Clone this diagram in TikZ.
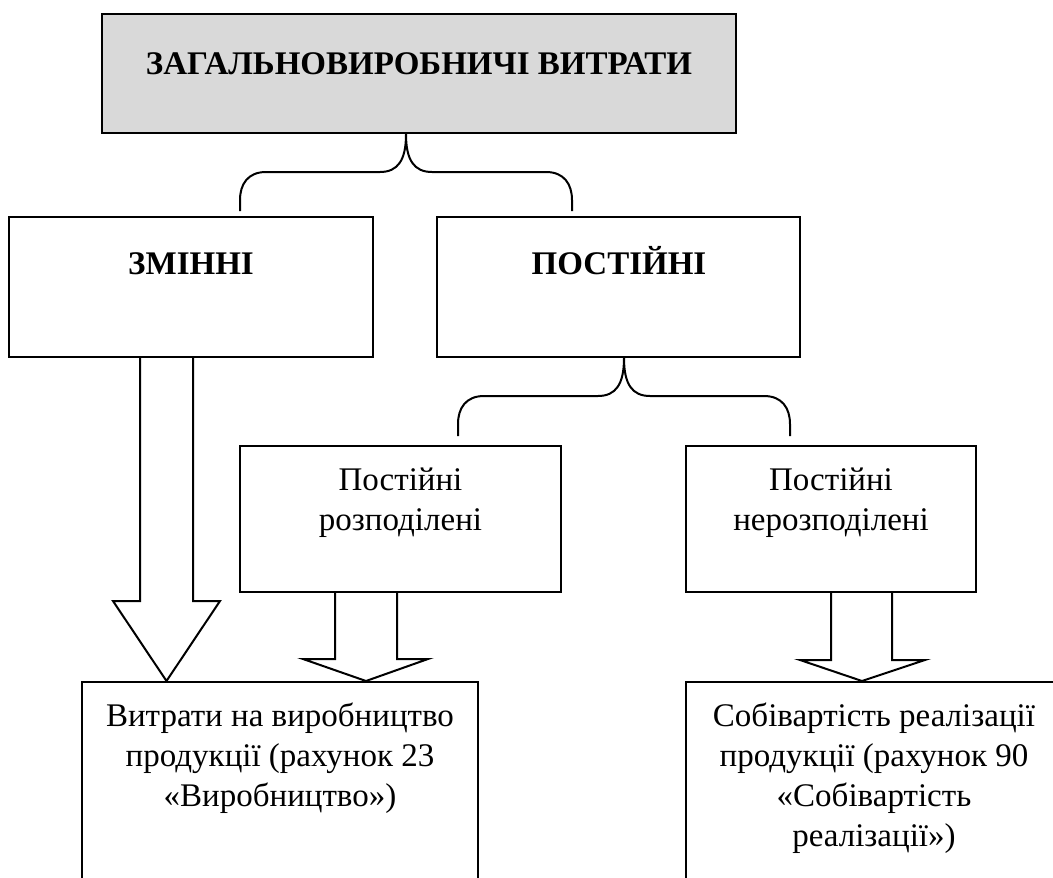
\documentclass[tikz,border=0pt]{standalone}
\usepackage{fontspec}
\setmainfont{Liberation Serif}
\definecolor{topgray}{RGB}{217,217,217}
\tikzset{
  box/.style={draw, line width=2pt, inner sep=0pt, rectangle},
  txt/.style={font=\fontsize{33}{40}\selectfont, align=center, inner sep=0pt},
  btxt/.style={font=\bfseries\fontsize{33}{40}\selectfont, inner sep=0pt},
  brace/.style={draw, line width=2pt},
  blockarrow/.style={draw, line width=2pt, line join=miter}
}
\begin{document}
\begin{tikzpicture}[x=1pt, y=-1pt]
\useasboundingbox (0,0) rectangle (1053,878);
% boxes
\node[box, fill=topgray, line width=2.5pt, minimum width=634pt, minimum height=119pt] (top) at (419,73.5) {};
\node[btxt, anchor=base] (toptxt) at (419,74) {ЗАГАЛЬНОВИРОБНИЧІ ВИТРАТИ};
\node[box, minimum width=364pt, minimum height=140pt] (zm) at (191,287) {};
\node[btxt, anchor=base] (zmtxt) at (191,274) {ЗМІННІ};
\node[box, minimum width=363pt, minimum height=140pt] (ps) at (618.5,287) {};
\node[btxt, anchor=base] (pstxt) at (619,274) {ПОСТІЙНІ};
\node[box, minimum width=321pt, minimum height=146pt] (rz) at (400.5,519) {};
\node[txt] (rztxt) at (400.5,502.5) {Постійні\\розподілені};
\node[box, minimum width=290pt, minimum height=146pt] (nrz) at (831,519) {};
\node[txt] (nrztxt) at (831,502.5) {Постійні\\нерозподілені};
\node[box, minimum width=396pt, minimum height=218pt] (bl) at (280,791) {};
\node[txt] (bltxt) at (280,758) {Витрати на виробництво\\продукції (рахунок 23\\«Виробництво»)};
\node[box, minimum width=376pt, minimum height=218pt] (br) at (874,791) {};
\node[txt] (brtxt) at (874,778) {Собівартість реалізації\\продукції (рахунок 90\\«Собівартість\\реалізації»)};
% braces
\coordinate (b1) at (top.south -| 406,0);
\draw[brace] (b1) .. controls (406,160) and (398,172) .. (380,172) -- (266,172)
  .. controls (248,172) and (240,184) .. (240,200) -- (240,211);
\draw[brace] (b1) .. controls (406,160) and (414,172) .. (432,172) -- (546,172)
  .. controls (564,172) and (572,184) .. (572,200) -- (572,211);
\coordinate (b2) at (ps.south -| 624,0);
\draw[brace] (b2) .. controls (624,384) and (616,396) .. (598,396) -- (484,396)
  .. controls (466,396) and (458,408) .. (458,424) -- (458,436);
\draw[brace] (b2) .. controls (624,384) and (632,396) .. (650,396) -- (764,396)
  .. controls (782,396) and (790,408) .. (790,424) -- (790,436);
% block arrows
\draw[blockarrow] (zm.south -| 140,0) -- (140,601) -- (113,601) -- (bl.north -| 166.5,0)
  -- (220,601) -- (193,601) -- (zm.south -| 193,0);
\draw[blockarrow] (rz.south -| 335,0) -- (335,659) -- (303,659) -- (bl.north -| 366,0)
  -- (428,659) -- (397,659) -- (rz.south -| 397,0);
\draw[blockarrow] (nrz.south -| 831,0) -- (831,660) -- (800,660) -- (br.north -| 862,0)
  -- (925,660) -- (892,660) -- (nrz.south -| 892,0);
\end{tikzpicture}
\end{document}
